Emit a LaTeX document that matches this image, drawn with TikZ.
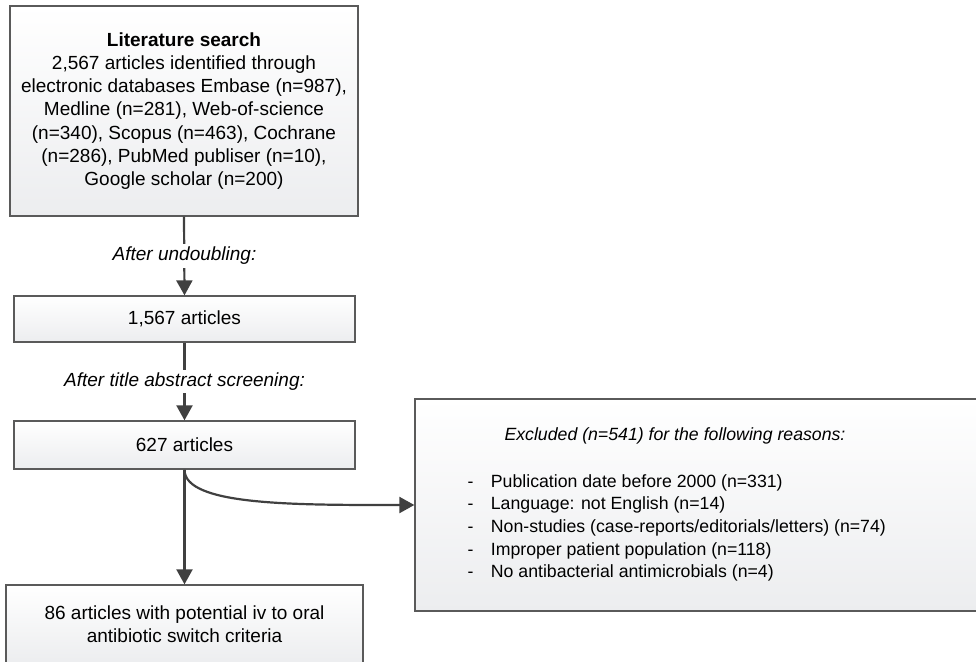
\documentclass[tikz,border=0pt]{standalone}
\usepackage{fontspec}
\setmainfont{Liberation Sans}
\usetikzlibrary{arrows.meta}

\definecolor{edgegray}{RGB}{90,90,90}
\definecolor{arrowgray}{RGB}{64,64,64}
\definecolor{shadegray}{RGB}{236,237,239}

\tikzset{
  flowbox/.style={draw=edgegray, line width=1.3pt, top color=white,
    bottom color=shadegray, inner sep=0pt, align=center,
    font=\fontsize{19}{23.3}\selectfont},
  flowarrow/.style={draw=arrowgray, line width=2.2pt,
    -{Triangle[length=15pt,width=16pt]}},
  steplabel/.style={fill=white, inner sep=3pt,
    font=\fontsize{19}{23.3}\selectfont\itshape},
  reasontext/.style={anchor=base west, inner sep=0pt,
    font=\fontsize{17.7}{22.6}\selectfont},
}
\newcommand{\reasondash}{\makebox[23.4pt][l]{-}}

\begin{document}
\begin{tikzpicture}[x=1pt,y=-1pt]
  \useasboundingbox (0,0) rectangle (976,661);
  \clip (0,0) rectangle (976,661);

  % boxes of the flow
  \node[flowbox, minimum width=348pt, minimum height=210pt] (search) at (184,111)
    {\textbf{Literature search}\\
     2,567 articles identified through\\
     electronic databases Embase (n=987),\\
     Medline (n=281), Web-of-science\\
     (n=340), Scopus (n=463), Cochrane\\
     (n=286), PubMed publiser (n=10),\\
     Google scholar (n=200)};
  \node[flowbox, minimum width=341pt, minimum height=46pt] (undoubled) at (184.5,319)
    {1,567 articles};
  \node[flowbox, minimum width=341pt, minimum height=48pt] (screened) at (184.5,445)
    {627 articles};
  \node[flowbox, minimum width=357pt, minimum height=79pt] (included) at (184.5,624.5)
    {86 articles with potential iv to oral\\antibiotic switch criteria};
  \node[flowbox, minimum width=580pt, minimum height=212pt] (excluded) at (705,505) {};

  % exclusion reasons
  \node[anchor=base, inner sep=0pt, font=\fontsize{17.7}{22.6}\selectfont\itshape]
    (exhead) at (675,440.7) {Excluded (n=541) for the following reasons:};
  \node[reasontext] (r1) at (467.3,487.3) {\reasondash Publication date before 2000 (n=331)};
  \node[reasontext] (r2) at (467.3,509.9) {\reasondash Language: not English (n=14)};
  \node[reasontext] (r3) at (467.3,532.5) {\reasondash Non-studies (case-reports/editorials/letters) (n=74)};
  \node[reasontext] (r4) at (467.3,555.1) {\reasondash Improper patient population (n=118)};
  \node[reasontext] (r5) at (467.3,577.7) {\reasondash No antibacterial antimicrobials (n=4)};

  % connectors
  \draw[flowarrow] (search.south) -- (undoubled.north);
  \draw[flowarrow] (undoubled.south) -- (screened.north);
  \draw[flowarrow] (screened.south) -- (included.north);
  \draw[flowarrow] (screened.south) .. controls +(0,36) and +(-120,0) .. (excluded.west);

  % step labels on the connectors
  \node[steplabel] (lbl1) at (184.5,256) {After undoubling:};
  \node[steplabel] (lbl2) at (184.5,381.5) {After title abstract screening:};
\end{tikzpicture}
\end{document}
